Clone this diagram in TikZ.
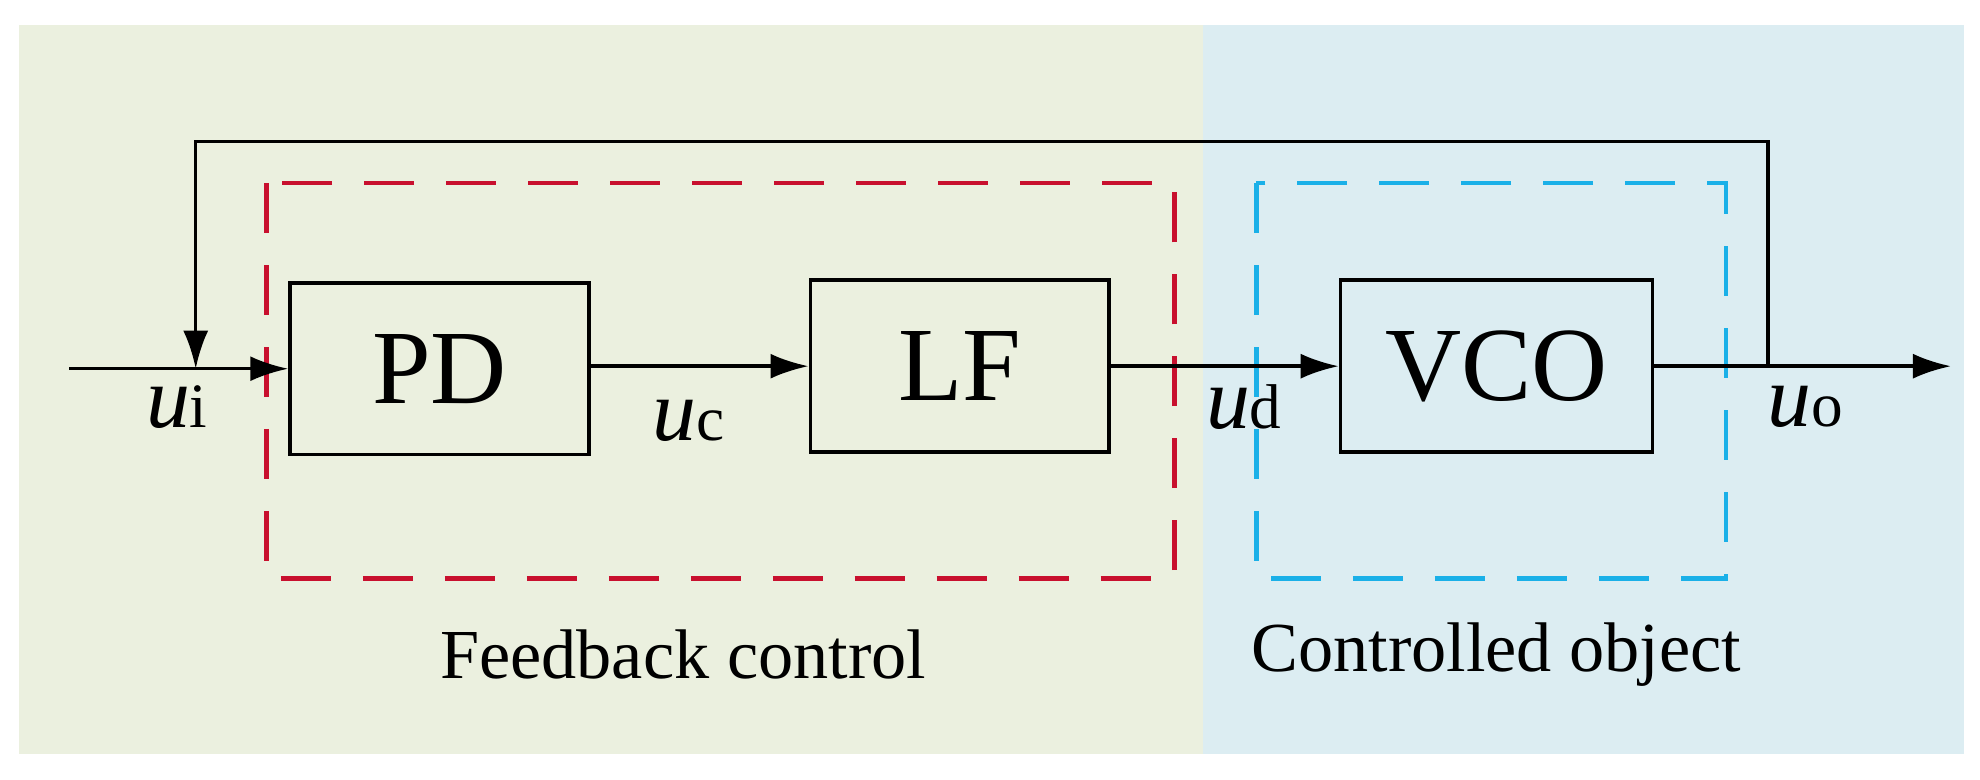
\documentclass[tikz,border=0pt]{standalone}
\usepackage{fontspec}
\setmainfont{Liberation Serif}
\usetikzlibrary{arrows.meta,positioning}
\definecolor{fbgreen}{HTML}{EBF0DF}
\definecolor{objblue}{HTML}{DCEDF2}
\definecolor{fbred}{HTML}{C8102E}
\definecolor{objcyan}{HTML}{1AB0E8}
\tikzset{
	block node/.style={draw, line width=1pt, minimum height=1.72cm, font=\fontsize{30}{34}\selectfont},
	sig/.style={line width=1pt, -{Latex[length=3.8mm,width=2.5mm]}},
	sig label/.style={font=\fontsize{25}{29}\selectfont, inner sep=0pt},
	group box/.style={line width=1.3pt, dash pattern=on 5mm off 3.2mm},
	caption/.style={font=\fontsize{20}{24}\selectfont},
}
\newcommand{\sigvar}[1]{$\mathit{u}$\fontsize{18}{20}\selectfont #1}
\begin{document}
\begin{tikzpicture}[x=0.01263cm,y=-0.01263cm]
\fill[fbgreen] (15,20) rectangle (953,597);
\fill[objblue] (953,20) rectangle (1555,597);

\draw[group box, fbred] (211,145) rectangle (930,458);
\draw[group box, objcyan] (995,145) rectangle (1367,458);

\node[block node, minimum width=2.99cm] (pd) at (348,292) {PD};
\node[block node, minimum width=2.99cm] (lf) at (760,290) {LF};
\node[block node, minimum width=3.12cm] (vco) at (1185,290) {VCO};

\coordinate (in) at (55,292);
\coordinate (fb) at (155,292);
\coordinate (tap) at (1400,290);
\coordinate (out) at (1545,290);

\draw[sig] (in) -- (pd.west |- in);
\draw[sig] (pd.east |- lf) -- (lf.west);
\draw[sig] (lf.east) -- (vco.west);
\draw[sig] (vco.east) -- (out);
\draw[sig] (tap) -- (1400,112) -- (155,112) -- (fb);

\node[sig label] (ui) at (140,322) {\sigvar{i}};
\node[sig label] (uc) at (545,333) {\sigvar{c}};
\node[sig label] (ud) at (985,322) {\sigvar{d}};
\node[sig label] (uo) at (1430,322) {\sigvar{o}};

\node[caption] (fbc) at (541,518) {Feedback control};
\node[caption] (obj) at (1185,518) {Controlled object};
\pgfresetboundingbox
\useasboundingbox (0,0) rectangle (1568,617);
\end{tikzpicture}
\end{document}
